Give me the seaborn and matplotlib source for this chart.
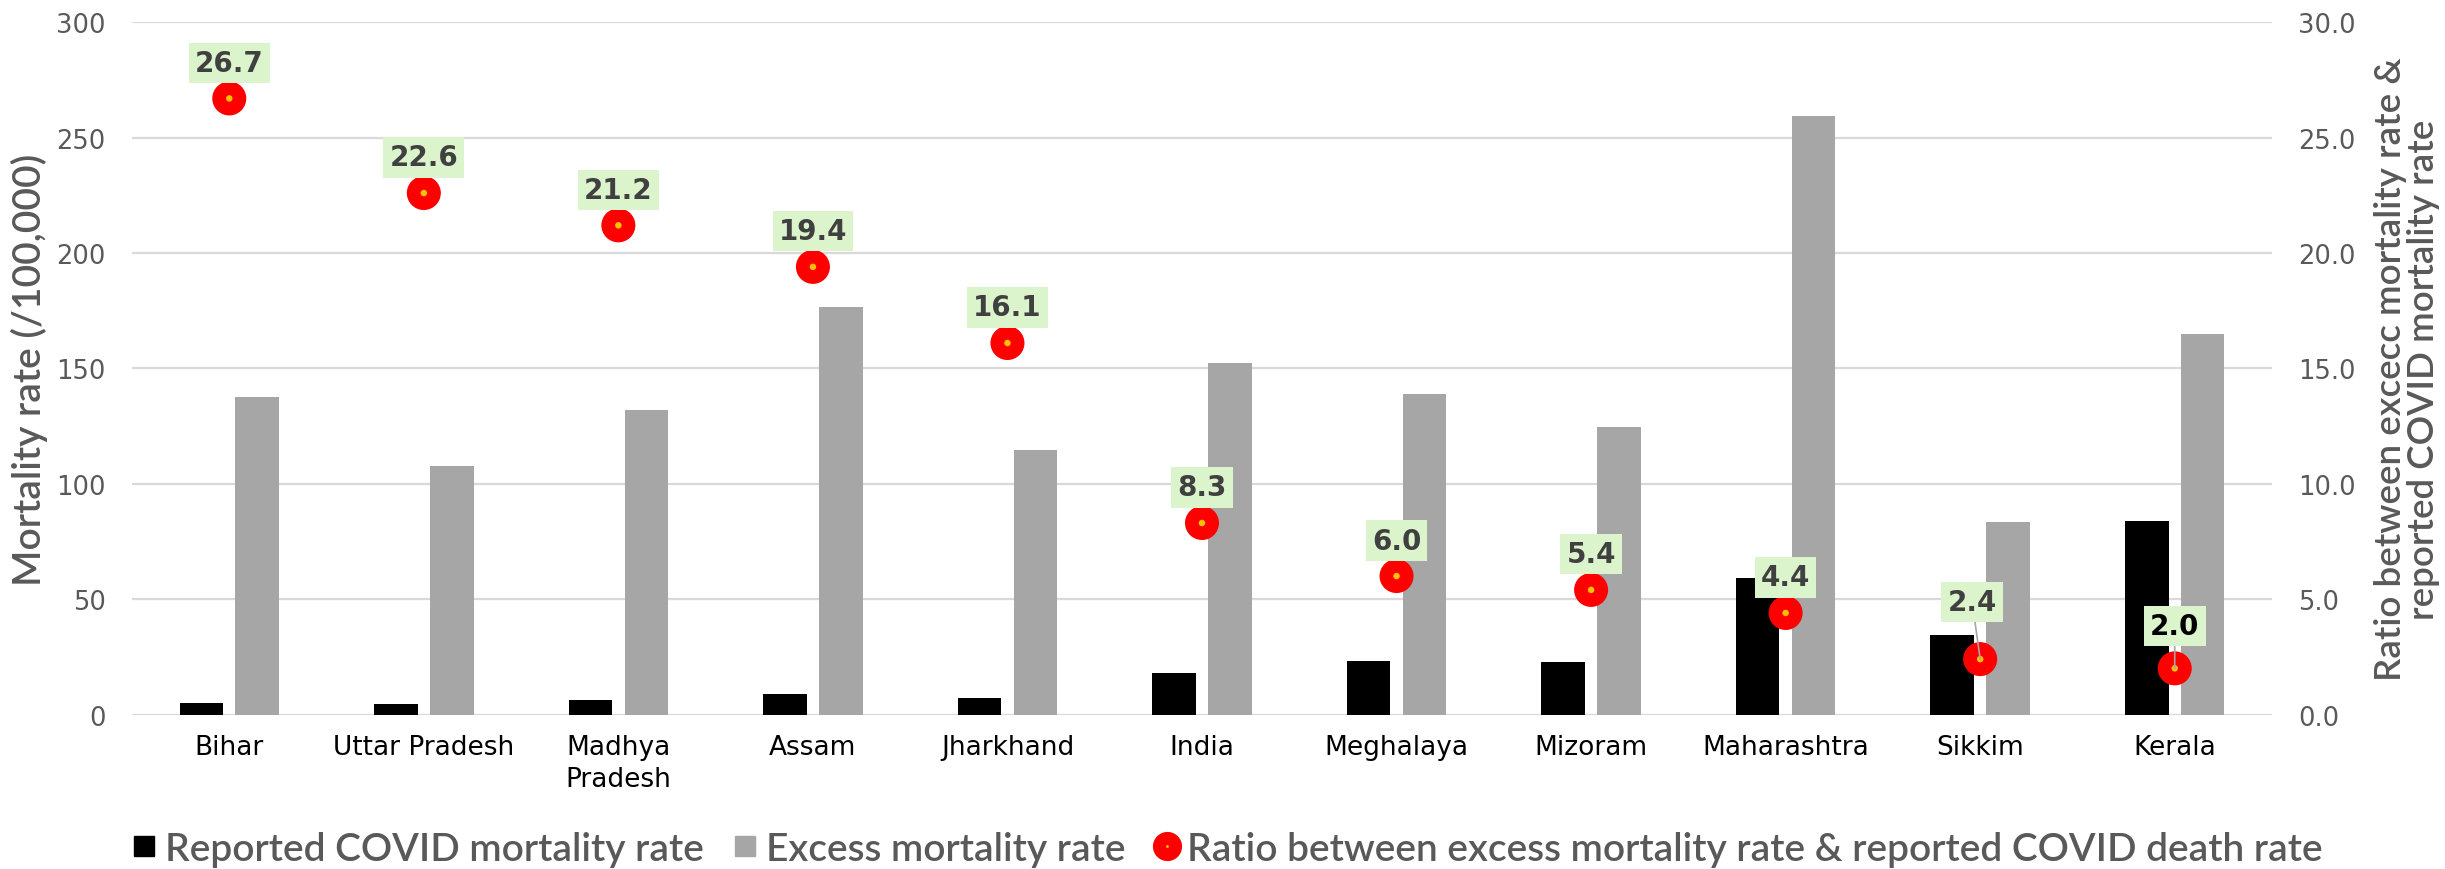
import numpy as np
import pandas as pd
import matplotlib
matplotlib.use("Agg")
import matplotlib.pyplot as plt
import seaborn as sns
from matplotlib.lines import Line2D
from matplotlib.ticker import MultipleLocator, FormatStrFormatter

# ---- data -------------------------------------------------------------
states = ["Bihar", "Uttar Pradesh", "Madhya\nPradesh", "Assam", "Jharkhand",
          "India", "Meghalaya", "Mizoram", "Maharashtra", "Sikkim", "Kerala"]
reported_rate = [5.0, 4.6, 6.2, 9.0, 7.1, 18.2, 23.0, 22.8, 59.3, 34.4, 83.9]
excess_rate = [137.6, 107.8, 131.9, 176.6, 114.7, 152.5, 139.0, 124.5, 259.5, 83.3, 165.0]
ratio = [26.7, 22.6, 21.2, 19.4, 16.1, 8.3, 6.0, 5.4, 4.4, 2.4, 2.0]

series_names = ["Reported COVID mortality rate", "Excess mortality rate"]
ratio_name = "Ratio between excess mortality rate & reported COVID death rate"

# ---- style ------------------------------------------------------------
sns.set_theme(style="white")
plt.rcParams["font.family"] = ["DejaVu Sans"]
GREY_TEXT = "#595959"
TITLE_FONT = ["Lato", "DejaVu Sans"]

long_df = pd.DataFrame({
    "state": states * 2,
    "series": [series_names[0]] * len(states) + [series_names[1]] * len(states),
    "value": reported_rate + excess_rate,
})

fig = plt.figure(figsize=(24.45, 8.70), dpi=100)
W, H = 2445, 870
ax = fig.add_axes([132 / W, 1 - 715.5 / H, (2272 - 132) / W, (715.5 - 23.3) / H])

sns.barplot(data=long_df, x="state", y="value", hue="series",
            order=states, hue_order=series_names,
            palette=["#000000", "#a6a6a6"], saturation=1,
            width=0.574, gap=0.22, errorbar=None, linewidth=0,
            legend=False, ax=ax)

ax.set_ylim(0, 300)
ax.yaxis.set_major_locator(MultipleLocator(50))
ax.grid(axis="y", color="#d9d9d9", linewidth=1.6)
ax.grid(axis="x", visible=False)
ax.set_axisbelow(True)
for s in ax.spines.values():
    s.set_visible(False)
ax.tick_params(axis="x", length=0, pad=14, labelsize=19, labelcolor="black")
ax.tick_params(axis="y", length=0, pad=19, labelsize=18.5, labelcolor=GREY_TEXT)
for lab in ax.get_xticklabels():
    lab.set_linespacing(1.3)
ax.set_xlabel("")
ax.set_ylabel("Mortality rate (/100,000)", fontsize=28, color=GREY_TEXT,
              family=TITLE_FONT, fontweight="semibold", labelpad=6)

# ---- ratio on the secondary axis ---------------------------------------
ax2 = ax.twinx()
pos = np.arange(len(states))
sns.scatterplot(x=pos, y=ratio, ax=ax2, s=600, color="#ff0000",
                edgecolor="none", linewidth=0, legend=False, zorder=3)
sns.scatterplot(x=pos, y=ratio, ax=ax2, s=22, color="#ffc000",
                edgecolor="none", linewidth=0, legend=False, zorder=4)
ax2.set_ylim(0, 30)
ax.set_xlim(-0.5, len(states) - 0.5)
ax2.yaxis.set_major_locator(MultipleLocator(5))
ax2.yaxis.set_major_formatter(FormatStrFormatter("%.1f"))
ax2.grid(False)
for s in ax2.spines.values():
    s.set_visible(False)
ax2.tick_params(axis="y", length=0, pad=19, labelsize=18.5, labelcolor=GREY_TEXT)
ax2.set_xlabel("")
ax2.set_ylabel("Ratio between excecc mortality rate &\nreported COVID mortality rate",
               fontsize=26.5, color=GREY_TEXT, family=TITLE_FONT,
               fontweight="semibold", labelpad=13, linespacing=1.0)

# data labels above the ratio markers
offsets = {name: (0, 25.6) for name in states}
offsets["Sikkim"] = (-5.8, 41.4)
offsets["Kerala"] = (0, 30.7)
leader = {"Sikkim", "Kerala"}
for i, (name, r) in enumerate(zip(states, ratio)):
    kw = {}
    if name in leader:
        kw["arrowprops"] = dict(arrowstyle="-", color="#a6a6a6", lw=1.2,
                                shrinkA=0, shrinkB=0)
    ax2.annotate(f"{r:.1f}", xy=(pos[i], r), xytext=offsets[name],
                 textcoords="offset points", ha="center", va="center",
                 fontsize=20, fontweight="bold",
                 color="black" if name == "Kerala" else "#404040",
                 bbox=dict(boxstyle="square,pad=0.22", fc="#dcf4cc", ec="none"),
                 zorder=5, **kw)

# ---- legend -------------------------------------------------------------
handles = [
    Line2D([], [], marker="s", ls="none", color="#000000", markersize=14),
    Line2D([], [], marker="s", ls="none", color="#a6a6a6", markersize=14),
    (Line2D([], [], marker="o", ls="none", markerfacecolor="#ff0000",
            markeredgecolor="none", markersize=21),
     Line2D([], [], marker="o", ls="none", markerfacecolor="#ffc000",
            markeredgecolor="none", markersize=2)),
]
fig.legend(handles, series_names + [ratio_name], loc="center",
           bbox_to_anchor=(0.5025, 1 - 850 / H), ncol=3, frameon=False,
           prop=dict(family=TITLE_FONT, size=28, weight="semibold"),
           labelcolor=GREY_TEXT,
           handlelength=0.52, handletextpad=0.26, columnspacing=0.82,
           borderaxespad=0)

fig.savefig("out.png", dpi=100)
